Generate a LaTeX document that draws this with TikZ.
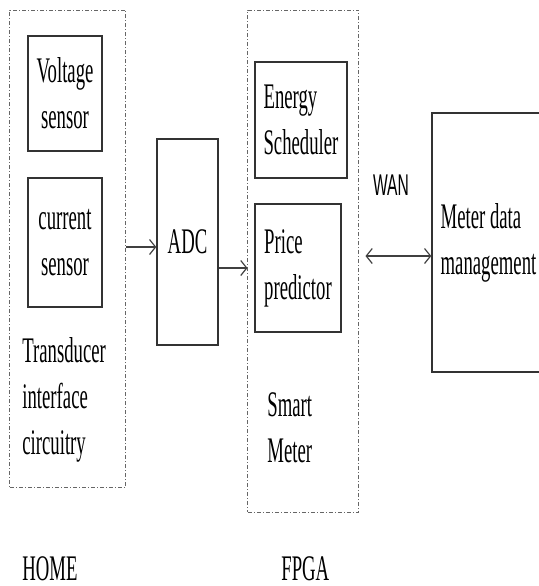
\documentclass[tikz,border=0pt]{standalone}
\usepackage{fontspec}
\setmainfont{Liberation Serif}[FakeStretch=0.52]
\newfontfamily\wanfont{Liberation Sans}[FakeStretch=0.52]
\usetikzlibrary{arrows.meta}

\begin{document}
\begin{tikzpicture}[x=0.5pt,y=-0.5pt]
				\tikzstyle{block}=[draw=black!80,line width=0.7pt,inner sep=0pt,align=center,font=\fontsize{18}{23}\selectfont]
				\tikzstyle{group}=[draw=black!60,line width=0.5pt,dash pattern=on 2pt off 1pt on 0.5pt off 1pt,inner sep=0pt]
				\tikzstyle{label}=[font=\fontsize{18}{23}\selectfont,align=left,inner sep=0pt,anchor=west]
				\tikzstyle{link}=[draw=black!75,line width=0.6pt,-{Straight Barb[length=3pt,width=7.5pt]}]

				\useasboundingbox (0,0) rectangle (538,586);

				% HOME side
				\node [group,minimum width=58pt,minimum height=238.5pt] (home) at (68,248.5) {};
				\node [block,minimum width=37pt,minimum height=57.5pt] (voltage) at (65,93.5) {Voltage\\sensor};
				\node [block,minimum width=37pt,minimum height=64.5pt] (current) at (65,242.5) {current\\sensor};
				\node [label] (transducer) at (22,400) {Transducer\\interface\\circuitry};

				\node [block,minimum width=30.5pt,minimum height=103pt] (adc) at (187.5,242) {ADC};

				% FPGA side
				\node [group,minimum width=55.5pt,minimum height=251pt] (fpga) at (303.5,261) {};
				\node [block,align=left,minimum width=46pt,minimum height=58pt] (energy) at (301,120) {Energy\\Scheduler};
				\node [block,align=left,minimum width=43pt,minimum height=64pt] (price) at (298,268) {Price\\predictor};
				\node [label] (smart) at (267,428) {Smart\\Meter};

				\node [block,align=left,minimum width=56.5pt,minimum height=129.5pt] (meter) at (488.5,242.5) {Meter data\\management};
				\node [font=\wanfont\fontsize{15}{18}\selectfont,inner sep=0pt] (wan) at (391,185) {WAN};

				\draw[link] (home.east |- 0,247) -- (adc.west |- 0,247);
				\draw[link] (adc.east |- 0,268) -- (fpga.west |- 0,268);
				\draw[link,{Straight Barb[length=3pt,width=7.5pt]}-{Straight Barb[length=3pt,width=7.5pt]},shorten <=3pt] (fpga.east |- 0,256) -- (meter.west |- 0,256);

				\node [label] (homename) at (22,569) {HOME};
				\node [label] (fpganame) at (281,569) {FPGA};
\end{tikzpicture}
\end{document}
